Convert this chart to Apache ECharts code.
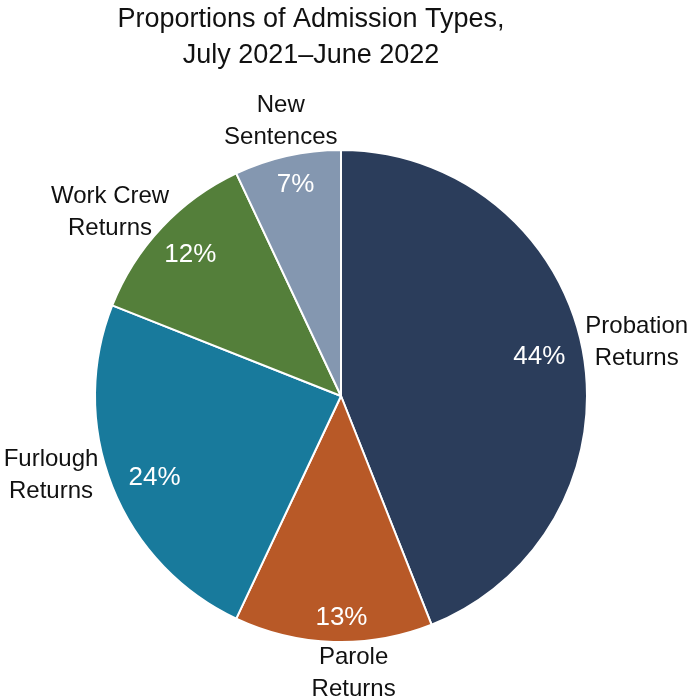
<!DOCTYPE html>
<html>
<head>
<meta charset="utf-8">
<title>Proportions of Admission Types</title>
<script src="https://cdn.jsdelivr.net/npm/echarts@6/dist/echarts.min.js"></script>
<style>
  html, body { margin: 0; padding: 0; background: #ffffff; }
  #chart { width: 691px; height: 700px; }
</style>
</head>
<body>
<div id="chart"></div>
<script>
// Admission types, July 2021 – June 2022 (percent of admissions)
const categories = ['Probation\nReturns', 'Parole\nReturns', 'Furlough\nReturns', 'Work Crew\nReturns', 'New\nSentences'];
const shares = [44, 13, 24, 12, 7];
const sliceColors = ['#2b3d5b', '#b85927', '#187a9c', '#547f3a', '#8497b0'];

// Fine placement of the labels around their slice mid-angles
const percentNudge = [[-6, 0], [7, 14], [7, 5], [1, 1], [0, -8]];
const nameNudge = [[2, 2], [22, -21], [-12, -31], [-13, 21], [5, 17]];

const FONT = 'Liberation Sans';
const CENTER = [341, 396];
const R = 246;

const pieData = categories.map((name, i) => ({
  name: name,
  value: shares[i],
  itemStyle: { color: sliceColors[i] }
}));

const ringBase = {
  type: 'pie',
  center: CENTER,
  startAngle: 90,
  clockwise: true,
  silent: true,
  avoidLabelOverlap: false,
  itemStyle: { color: 'rgba(0,0,0,0)', borderWidth: 0 },
  emphasis: { disabled: true },
  labelLine: { show: false },
  animation: false
};

const chart = echarts.init(document.getElementById('chart'), null, { renderer: 'canvas' });
chart.setOption({
  backgroundColor: '#ffffff',
  animation: false,
  title: {
    text: 'Proportions of Admission Types,\nJuly 2021\u2013June 2022',
    left: 306,
    top: -3,
    textAlign: 'center',
    textStyle: {
      fontFamily: FONT,
      fontSize: 27,
      fontWeight: 'normal',
      color: '#111111',
      lineHeight: 36
    }
  },
  series: [
    {
      type: 'pie',
      center: CENTER,
      radius: [0, R],
      startAngle: 90,
      clockwise: true,
      silent: true,
      data: pieData,
      itemStyle: { borderColor: '#ffffff', borderWidth: 2 },
      label: { show: false },
      labelLine: { show: false },
      emphasis: { disabled: true },
      animation: false
    },
    Object.assign({}, ringBase, {
      radius: [195, 215],
      data: categories.map((name, i) => ({ name: name, value: shares[i] })),
      label: {
        show: true,
        position: 'inside',
        formatter: '{c}%',
        fontFamily: FONT,
        fontSize: 26,
        color: '#ffffff'
      },
      labelLayout: function (p) {
        const d = percentNudge[p.dataIndex];
        return { dx: d[0], dy: d[1] };
      }
    }),
    Object.assign({}, ringBase, {
      radius: [286, 306],
      data: categories.map((name, i) => ({ name: name, value: shares[i] })),
      label: {
        show: true,
        position: 'inside',
        formatter: '{b}',
        fontFamily: FONT,
        fontSize: 24,
        lineHeight: 32,
        color: '#111111',
        align: 'center'
      },
      labelLayout: function (p) {
        const d = nameNudge[p.dataIndex];
        return { dx: d[0], dy: d[1] };
      }
    })
  ]
});
</script>
</body>
</html>
